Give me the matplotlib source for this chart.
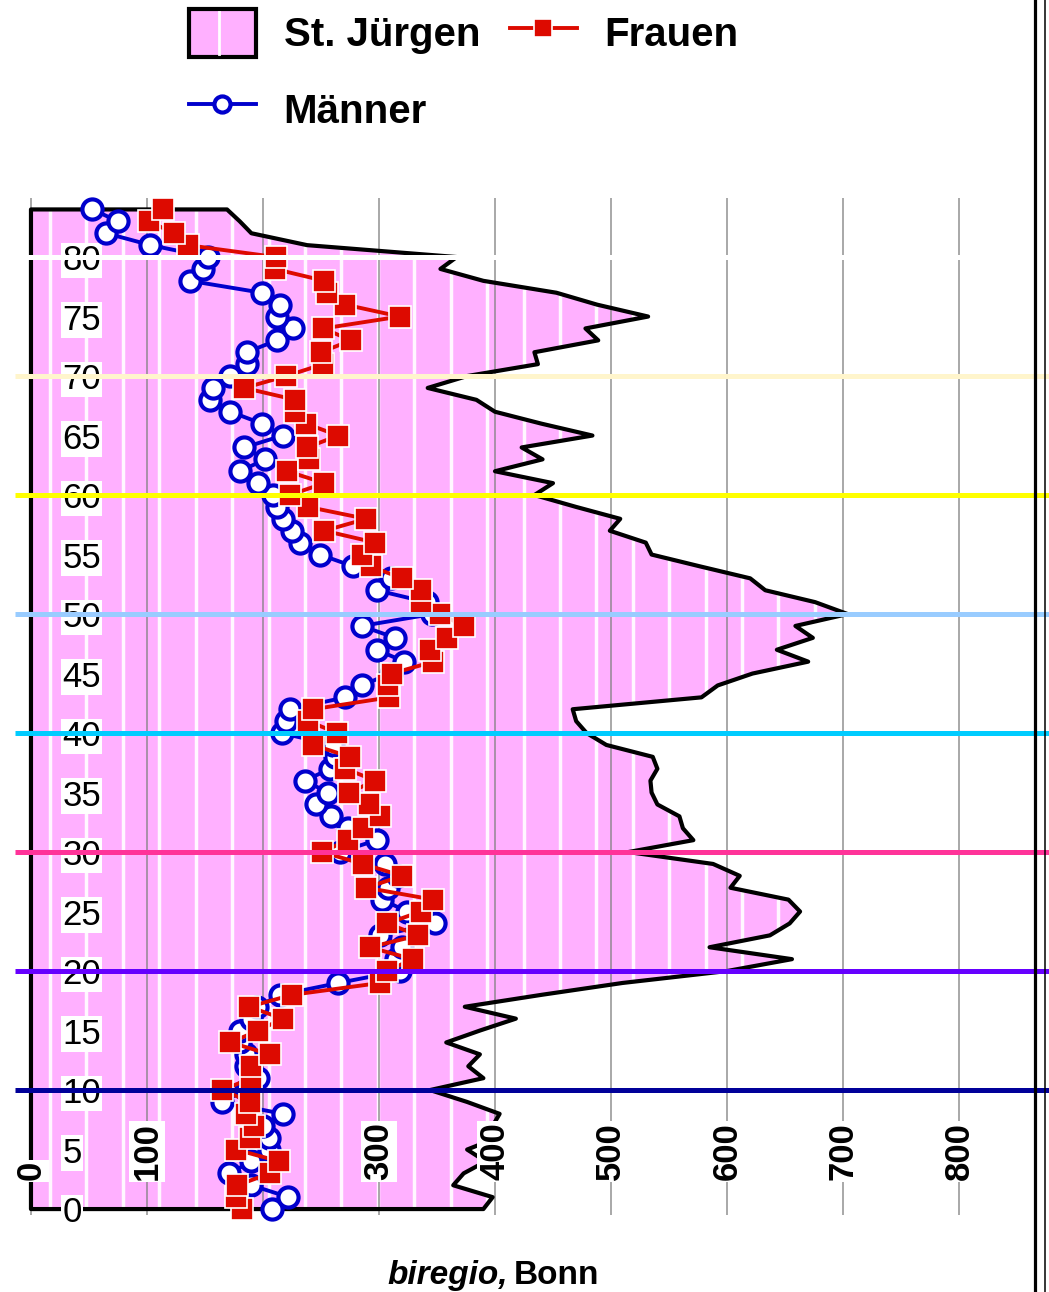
import numpy as np
import matplotlib
matplotlib.use('Agg')
import matplotlib.pyplot as plt
from matplotlib.patches import Polygon, Rectangle
from matplotlib.lines import Line2D
from matplotlib.legend_handler import HandlerPatch

plt.rcParams['font.family'] = ['Liberation Sans', 'DejaVu Sans']

# age 0 .. 84
ages = list(range(85))

st_juergen = [390, 398, 364, 373, 392, 376, 402, 398, 404, 376,
              344, 390, 377, 387, 358, 387, 418, 374, 440, 510,
              600, 656, 585, 637, 654, 663, 653, 603, 611, 588,
              515, 571, 562, 559, 540, 535, 534, 540, 536, 496,
              479, 470, 467, 578, 592, 622, 670, 643, 674, 659,
              704, 676, 633, 620, 577, 535, 530, 499, 508, 470,
              434, 450, 400, 441, 423, 484, 440, 400, 384, 342,
              376, 437, 434, 489, 478, 532, 488, 453, 390, 353,
              367, 238, 190, 180, 169]

frauen = [182, 177, 178, 206, 214, 177, 189, 192, 185, 189,
          165, 190, 190, 206, 172, 196, 217, 188, 225, 301,
          307, 329, 292, 334, 307, 336, 347, 289, 320, 286,
          251, 273, 286, 301, 291, 274, 297, 271, 275, 243,
          264, 239, 243, 309, 308, 311, 347, 344, 359, 373,
          353, 336, 336, 320, 293, 285, 297, 253, 289, 239,
          223, 253, 221, 240, 238, 265, 237, 228, 228, 184,
          220, 252, 250, 276, 252, 318, 271, 255, 253, 210,
          211, 135, 123, 102, 114]

maenner = [208, 222, 190, 171, 190, 205, 205, 200, 217, 165,
           185, 196, 185, 185, 180, 180, 190, 195, 215, 265,
           318, 315, 320, 301, 348, 324, 303, 308, 316, 305,
           266, 298, 273, 259, 246, 256, 236, 258, 262, 260,
           216, 220, 223, 271, 285, 310, 322, 298, 314, 285,
           346, 341, 298, 310, 278, 249, 232, 225, 217, 212,
           209, 196, 180, 202, 184, 217, 199, 172, 154, 157,
           172, 186, 186, 212, 226, 212, 215, 199, 137, 148,
           153, 103, 65, 75, 53]

band_ages = [10, 20, 30, 40, 50, 60, 70, 80]
band_colors = ['#000099', '#6600ff', '#ff3399', '#00ccff',
               '#99ccff', '#ffff00', '#fff5cc', '#ffffff']

grid_x = [0, 100, 200, 300, 400, 500, 600, 700, 800]
x_labels = [0, 100, 300, 400, 500, 600, 700, 800]
y_labels = [0, 5, 10, 15, 20, 25, 30, 35, 40, 45, 50, 55, 60, 65, 70, 75, 80]

pink = '#ffb0ff'
red = '#dd0a00'
blue = '#0000cc'

fig = plt.figure(figsize=(10.49, 12.92), dpi=100)
ax = fig.add_axes([0, 0, 1, 1])
ax.set_xlim(-26.7, 877.6)
ax.set_ylim(-6.97, 101.6)
ax.axis('off')

# pink area for St. Jürgen
verts = [(0, 0)] + list(zip(st_juergen, ages)) + [(0, ages[-1])]
area = Polygon(verts, closed=True, fc=pink, ec='none', zorder=1)
ax.add_patch(area)
# white stripes inside the area
for xs in np.arange(16.4, 880, 31.4):
    ln = ax.axvline(xs, color='white', lw=2.5, alpha=0.9, zorder=1.5)
    ln.set_clip_path(area)
ax.add_patch(Polygon(verts, closed=True, fill=False, ec='black', lw=3,
                     joinstyle='round', zorder=3))

# grid
ax.vlines(grid_x, -0.5, 85, colors='#808080', lw=1.2, alpha=0.8, zorder=2)

# tick labels inside the plot
for a in y_labels:
    ax.text(27.0, a, str(a), ha='left', va='center_baseline', fontsize=25,
            bbox=dict(fc='white', ec='none', pad=1), zorder=4)
for v in x_labels:
    ax.text(v, 2.4, str(v), rotation=90, rotation_mode='anchor', ha='left',
            va='center', fontsize=25, fontweight='bold',
            bbox=dict(fc='white', ec='none', pad=1), zorder=4)

m_line, = ax.plot(maenner, ages, color=blue, lw=2.8, marker='o', ms=14.5,
                  mfc='white', mec=blue, mew=3, zorder=5)
f_line, = ax.plot(frauen, ages, color=red, lw=2.8, marker='s', ms=16,
                  mfc=red, mec='white', mew=1.2, zorder=6)

# age bands
ax.hlines(band_ages, -14, 880, colors=band_colors, lw=3.6, zorder=7)


class StripedBox(HandlerPatch):
    def create_artists(self, legend, orig_handle, xdescent, ydescent,
                       width, height, fontsize, trans):
        box = Rectangle((-xdescent, -ydescent), width, height, fc=pink,
                        ec='black', lw=3, transform=trans)
        sx = -xdescent + width * 0.45
        stripe = Line2D([sx, sx], [-ydescent + 2, -ydescent + height - 2],
                        color='white', lw=2, transform=trans)
        return [box, stripe]


area_proxy = Rectangle((0, 0), 1, 1, fc=pink, ec='black', lw=3)
fig.legend([area_proxy, m_line, f_line], ['St. Jürgen', 'Männer', 'Frauen'],
           handler_map={Rectangle: StripedBox()},
           loc='upper left', bbox_to_anchor=(189 / 1049, 1 - 9 / 1292),
           ncol=2, frameon=False, prop={'weight': 'bold', 'size': 29},
           handlelength=1.66, handleheight=1.45, handletextpad=0.69,
           columnspacing=0.74, labelspacing=0.72, borderpad=0,
           borderaxespad=0, markerscale=0.8)

fig.text(508 / 1049, 8 / 1292, 'biregio,', ha='right', va='baseline',
         fontsize=24, fontweight='bold', fontstyle='italic')
fig.text(514 / 1049, 8 / 1292, 'Bonn', ha='left', va='baseline',
         fontsize=24, fontweight='bold')

# double rule at the right edge
fig.add_artist(Line2D([1035 / 1049] * 2, [0, 1], color='black', lw=2.3,
                      transform=fig.transFigure))
fig.add_artist(Line2D([1045 / 1049] * 2, [0, 1], color='black', lw=1.1,
                      transform=fig.transFigure))

fig.savefig('out.png', dpi=100)
